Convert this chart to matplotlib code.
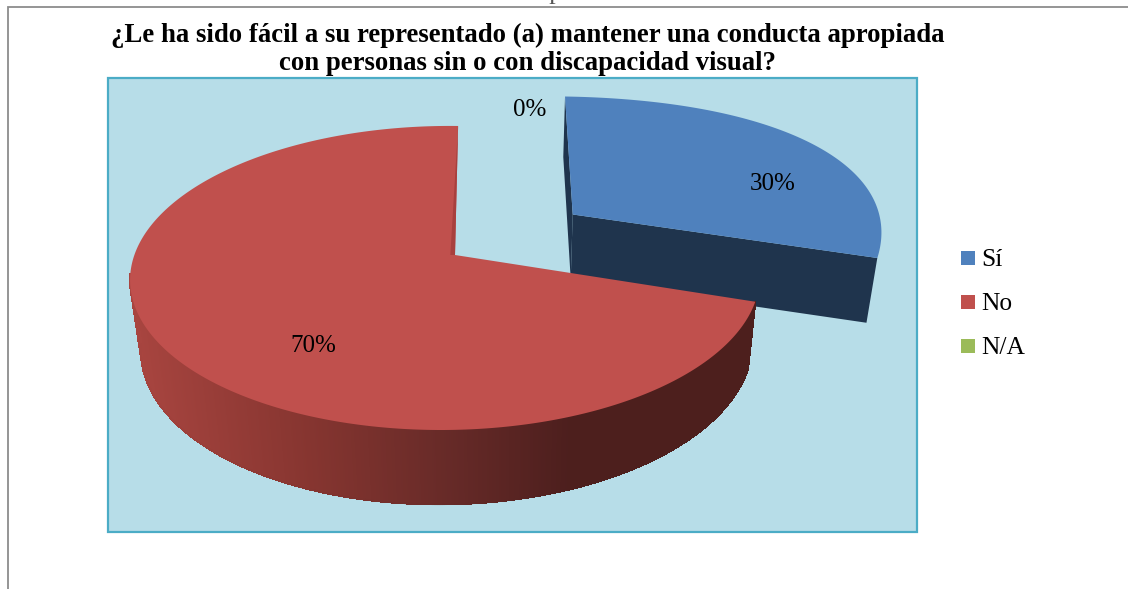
import numpy as np
import matplotlib
matplotlib.use('Agg')
import matplotlib.pyplot as plt
from matplotlib.patches import Polygon, Rectangle
from matplotlib.collections import LineCollection

categories = ['Sí', 'No', 'N/A']
values = [30, 70, 0]
pct_labels = ['30%', '70%', '0%']
colors = ['#4F81BD', '#C0504D', '#9BBB59']
title = ['¿Le ha sido fácil a su representado (a) mantener una conducta apropiada',
         'con personas sin o con discapacidad visual?']
clipped_text = 'con discapacidad visual.'

plt.rcParams['font.family'] = ['Liberation Serif']

###############################################################################
# Perspective of the tilted pie, all in image pixels
cx, cy = 455, 255     # pie centre on the top face
rx, ry = 311, 148.5   # radius on screen
ky, kx = 0.151, 0.03  # foreshortening
shear = 0.01
depth = 69.4          # thickness of the pie
kz = 0.03             # bottom face shrinks towards vx
vx = 505
explode = 0.49
blue_xscale, blue_shear, blue_bulge = 1.072, 0.015, 0.05


def project(x, y, z=0.0):
    x, y = np.asarray(x, float), np.asarray(y, float)
    w = 1 + ky * y + kx * x
    s = 1 / (1 + kz * z)
    px = vx + (cx + rx * (x / w + shear * y) - vx) * s
    py = cy + (-ry * y / w) * s + depth * z * s / w
    return px, py


def gradient(px):
    # side of the pie, lighter on the left, dark on the right
    stops_x = [130, 300, 450, 570, 760]
    stops_r = [0.66, 0.53, 0.40, 0.30, 0.30]
    stops_g = [0.27, 0.21, 0.165, 0.12, 0.12]
    stops_b = [0.25, 0.19, 0.155, 0.115, 0.115]
    return (np.interp(px, stops_x, stops_r),
            np.interp(px, stops_x, stops_g),
            np.interp(px, stops_x, stops_b))


fig = plt.figure(figsize=(11.28, 5.89), dpi=100)
ax = fig.add_axes([0, 0, 1, 1])
ax.set_xlim(0, 1128)
ax.set_ylim(589, 0)
ax.axis('off')

# Cut off line of text above the chart and the frame of the chart
ax.text(450, -0.5, clipped_text, ha='left', va='baseline', fontsize=19, color='#555555', zorder=1)
ax.plot([7.5, 7.5, 1128], [589, 6.5, 6.5], color='#8c8c8c', lw=1.3, zorder=2, solid_joinstyle='miter')

ax.add_patch(Rectangle((108, 78), 809, 454, facecolor='#B7DDE8', edgecolor='#4BACC6', lw=1.6, zorder=2))
ax.text(527.5, 35.5, title[0], ha='center', va='center', fontsize=19.25, fontweight='bold', zorder=3)
ax.text(527.5, 63.5, title[1], ha='center', va='center', fontsize=19.25, fontweight='bold', zorder=3)

###############################################################################
# Slices from the values
fractions = np.array(values) / sum(values)
a0 = 0.0
a1 = a0 + 2 * np.pi * fractions[0]
a2 = a1 + 2 * np.pi * fractions[1]

# Sí, pulled out of the pie
mid = (a0 + a1) / 2
dx, dy = explode * np.sin(mid), explode * np.cos(mid)
blue_dark = '#1F344D'
t = np.linspace(a0, a1, 200)
bulge = 1 + blue_bulge * np.sin(np.pi * (t - a0) / (a1 - a0)) ** 2
ys = bulge * np.cos(t) + dy
xs = bulge * (blue_xscale * np.sin(t) + blue_shear * np.cos(t)) + dx
# cut face towards the red slice
px0, py0 = project(np.array([dx, xs[-1], xs[-1], dx]), np.array([dy, ys[-1], ys[-1], dy]), np.array([0, 0, 1, 1]))
ax.add_patch(Polygon(np.c_[px0, py0], color=blue_dark, lw=0, zorder=4))
# cut face on the left, a thin sliver
px0, py0 = project(np.array([dx, xs[0], xs[0], dx]), np.array([dy, ys[0], ys[0], dy]), np.array([0, 0, 1, 1]))
ax.add_patch(Polygon(np.c_[px0, py0], color=blue_dark, lw=0, zorder=4))
px1, py1 = project(np.r_[dx, xs], np.r_[dy, ys])
ax.add_patch(Polygon(np.c_[px1, py1], color=colors[0], lw=0, zorder=5))

# No, side wall in thin strips for the gradient
t = np.linspace(a1, a2, 900)
xs, ys = np.sin(t), np.cos(t)
tx, ty = project(xs, ys, 0)
bx, by = project(xs, ys, 1)
front = (ys < -0.12) | (xs > 0)
for i in np.where(front[:-1])[0]:
    col = gradient((tx[i] + tx[i + 1]) / 2)
    ax.add_patch(Polygon([(tx[i], ty[i]), (tx[i + 1], ty[i + 1]), (bx[i + 1], by[i + 1]), (bx[i], by[i])],
                         facecolor=col, edgecolor=col, lw=0.8, antialiased=False, zorder=6))
# smooth lower edge
segs = [[(bx[i], by[i]), (bx[i + 1], by[i + 1])] for i in np.where(front[:-1])[0]]
seg_cols = [gradient(bx[i]) for i in np.where(front[:-1])[0]]
ax.add_collection(LineCollection(segs, colors=seg_cols, linewidths=1.0, zorder=6))

px2, py2 = project(np.r_[0, xs], np.r_[0, ys])
ax.add_patch(Polygon(np.c_[px2, py2], color=colors[1], lw=0, zorder=7))
# darker sliver along the cut at 12 o'clock
px3, py3 = project(np.array([0, 0, -0.015]), np.array([1, 0, 0]))
ax.add_patch(Polygon(np.c_[px3, py3], color='#A8403E', lw=0, zorder=8))

###############################################################################
# Labels
ax.text(773, 184.5, pct_labels[0], ha='center', va='center', fontsize=18, zorder=9)
ax.text(313, 345.5, pct_labels[1], ha='center', va='center', fontsize=18, zorder=9)
ax.text(530, 109.5, pct_labels[2], ha='center', va='center', fontsize=18, zorder=9)

# Legend
for i, name in enumerate(categories):
    y = 258 + i * 44
    ax.add_patch(Rectangle((961, y - 7), 14, 14, color=colors[i], lw=0, zorder=3))
    ax.text(981, y + 2, name, ha='left', va='center', fontsize=18.4, zorder=3)

fig.savefig('out.png', dpi=100)
